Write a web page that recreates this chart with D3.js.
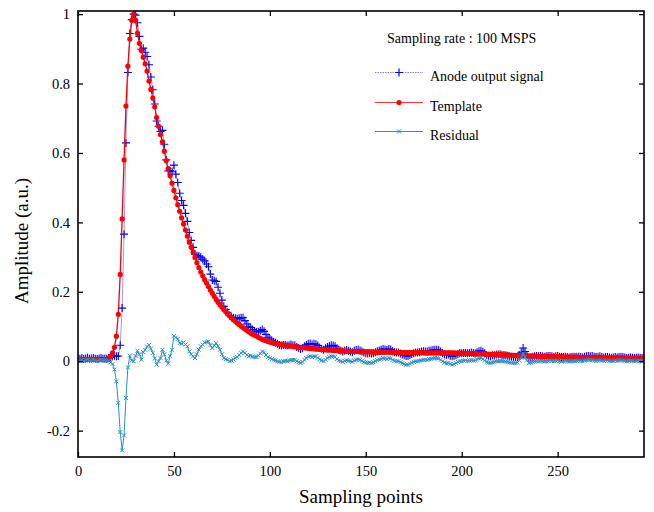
<!DOCTYPE html>
<html><head><meta charset="utf-8">
<script src="https://cdn.jsdelivr.net/npm/d3@7/dist/d3.min.js"></script>
<style>body{margin:0;background:#fff}svg{display:block}</style>
</head><body>
<svg id="c" width="654" height="512"></svg>
<script>
const template = [
0.005,0.005,0.005,0.005,0.005,0.005,0.005,0.005,0.005,0.005,
0.005,0.005,0.005,0.005,0.005,0.005,0.008,0.014,0.024,0.040,
0.072,0.135,0.250,0.410,0.580,0.735,0.850,0.928,0.982,1.000,
0.982,0.945,0.916,0.895,0.876,0.857,0.836,0.807,0.783,0.758,
0.733,0.702,0.677,0.653,0.632,0.605,0.578,0.555,0.534,0.513,
0.492,0.471,0.451,0.432,0.413,0.395,0.378,0.360,0.343,0.328,
0.314,0.299,0.284,0.270,0.257,0.246,0.235,0.225,0.215,0.205,
0.196,0.187,0.178,0.170,0.163,0.156,0.149,0.143,0.137,0.131,
0.125,0.120,0.115,0.110,0.106,0.101,0.097,0.093,0.089,0.085,
0.081,0.078,0.075,0.072,0.069,0.066,0.063,0.061,0.059,0.057,
0.055,0.054,0.052,0.051,0.050,0.049,0.048,0.047,0.046,0.045,
0.044,0.044,0.043,0.042,0.041,0.041,0.040,0.039,0.039,0.038,
0.037,0.037,0.036,0.036,0.035,0.035,0.034,0.034,0.033,0.033,
0.032,0.032,0.032,0.031,0.031,0.031,0.030,0.030,0.030,0.029,
0.029,0.029,0.028,0.028,0.028,0.028,0.028,0.027,0.027,0.027,
0.027,0.027,0.027,0.027,0.026,0.026,0.026,0.026,0.026,0.026,
0.026,0.026,0.026,0.026,0.025,0.025,0.025,0.025,0.025,0.025,
0.025,0.025,0.025,0.025,0.025,0.025,0.025,0.025,0.025,0.025,
0.025,0.024,0.024,0.024,0.024,0.024,0.024,0.024,0.024,0.024,
0.024,0.024,0.024,0.024,0.024,0.024,0.024,0.023,0.023,0.023,
0.023,0.023,0.022,0.022,0.022,0.022,0.022,0.021,0.021,0.021,
0.021,0.021,0.021,0.020,0.020,0.020,0.020,0.019,0.019,0.019,
0.019,0.018,0.018,0.018,0.018,0.017,0.017,0.017,0.017,0.016,
0.016,0.016,0.016,0.016,0.016,0.015,0.015,0.015,0.015,0.015,
0.014,0.014,0.014,0.014,0.014,0.014,0.013,0.013,0.013,0.013,
0.013,0.013,0.013,0.012,0.012,0.012,0.012,0.012,0.012,0.012,
0.012,0.011,0.011,0.011,0.011,0.011,0.011,0.011,0.011,0.011,
0.011,0.011,0.011,0.010,0.010,0.010,0.010,0.010,0.010,0.010,
0.010,0.010,0.010,0.010,0.010,0.010,0.009,0.009,0.009,0.009,
0.009,0.009,0.009,0.009,0.009,0.009];

const residual = [
0.003,0.002,0.004,0.001,0.003,0.005,0.002,0.003,0.004,0.002,
0.001,0.003,0.004,0.002,0.003,0.002,0.001,-0.003,-0.008,-0.024,
-0.058,-0.120,-0.204,-0.257,-0.214,-0.106,-0.018,0.016,0.002,0.000,
0.015,0.030,0.020,0.004,0.026,0.033,0.042,0.047,0.036,0.024,
0.008,-0.010,0.000,0.009,0.033,0.020,0.002,-0.007,0.015,0.033,
0.073,0.068,0.064,0.052,0.050,0.054,0.048,0.043,0.028,0.020,
0.014,0.009,0.020,0.033,0.043,0.048,0.054,0.055,0.057,0.046,
0.038,0.045,0.052,0.043,0.033,0.020,0.009,0.006,0.004,0.000,
0.002,0.005,0.009,0.012,0.018,0.024,0.028,0.024,0.018,0.014,
0.016,0.013,0.012,0.012,0.016,0.022,0.028,0.025,0.018,0.012,
0.009,0.006,0.004,0.002,0.000,-0.002,-0.003,0.000,0.001,0.000,
0.002,0.004,0.003,0.004,0.000,-0.003,-0.005,-0.002,0.004,0.009,
0.013,0.014,0.012,0.014,0.014,0.010,0.005,0.002,0.000,0.004,
0.009,0.012,0.014,0.014,0.012,0.006,0.002,0.000,-0.002,0.001,
0.003,0.001,0.000,-0.002,0.002,0.004,0.005,0.004,0.001,-0.002,
-0.004,-0.005,-0.004,-0.005,-0.003,0.000,0.003,0.005,0.007,0.009,
0.008,0.006,0.009,0.008,0.004,0.001,0.000,0.000,-0.003,-0.006,
-0.008,-0.010,-0.010,-0.007,-0.004,-0.002,0.000,0.000,0.001,0.003,
0.004,0.004,0.004,0.006,0.007,0.008,0.009,0.009,0.008,0.004,
0.000,-0.004,-0.006,-0.005,-0.008,-0.010,-0.008,-0.005,-0.002,0.000,
0.000,0.001,0.002,0.001,0.002,0.003,0.002,0.002,0.005,0.008,
0.009,0.006,0.002,-0.002,-0.004,-0.005,-0.003,-0.002,0.000,0.000,
0.001,0.000,0.000,-0.001,-0.002,-0.003,-0.004,-0.005,-0.005,-0.004,
0.002,0.010,0.022,0.012,0.002,-0.005,-0.004,-0.002,-0.001,0.000,
0.000,0.001,0.000,-0.001,0.000,0.001,0.002,0.001,0.000,0.001,
0.002,0.000,-0.001,0.000,0.001,0.000,-0.001,0.000,0.001,0.000,
0.001,0.002,0.001,0.000,0.002,0.003,0.004,0.003,0.004,0.002,
0.001,0.002,0.003,0.002,0.001,0.002,0.002,0.001,0.000,0.001,
0.002,0.001,0.002,0.003,0.002,0.001,0.000,0.001,0.002,0.001,
0.000,0.001,0.002,0.001,0.000,0.001];

const anode = [
0.008,0.007,0.009,0.006,0.008,0.010,0.007,0.008,0.009,0.007,
0.006,0.008,0.009,0.007,0.008,0.007,0.009,0.011,0.016,0.016,
0.014,0.015,0.046,0.153,0.366,0.629,0.832,0.944,0.984,1.000,
0.997,0.975,0.936,0.899,0.902,0.890,0.878,0.854,0.819,0.782,
0.741,0.692,0.677,0.662,0.665,0.625,0.580,0.548,0.549,0.546,
0.565,0.539,0.515,0.484,0.463,0.449,0.426,0.403,0.371,0.348,
0.328,0.308,0.304,0.303,0.300,0.294,0.289,0.280,0.272,0.251,
0.234,0.232,0.230,0.213,0.196,0.176,0.158,0.149,0.141,0.131,
0.127,0.125,0.124,0.122,0.124,0.125,0.125,0.117,0.107,0.099,
0.097,0.091,0.087,0.084,0.085,0.088,0.091,0.086,0.077,0.069,
0.064,0.060,0.056,0.053,0.050,0.047,0.045,0.047,0.047,0.045,
0.046,0.048,0.046,0.046,0.041,0.038,0.035,0.037,0.043,0.047,
0.050,0.051,0.048,0.050,0.049,0.045,0.039,0.036,0.033,0.037,
0.041,0.044,0.046,0.045,0.043,0.037,0.032,0.030,0.028,0.030,
0.032,0.030,0.028,0.026,0.030,0.032,0.033,0.031,0.028,0.025,
0.023,0.022,0.023,0.022,0.023,0.026,0.029,0.031,0.033,0.035,
0.034,0.032,0.035,0.034,0.029,0.026,0.025,0.025,0.022,0.019,
0.017,0.015,0.015,0.018,0.021,0.023,0.025,0.025,0.026,0.028,
0.029,0.028,0.028,0.030,0.031,0.032,0.033,0.033,0.032,0.028,
0.024,0.020,0.018,0.019,0.016,0.014,0.016,0.018,0.021,0.023,
0.023,0.024,0.024,0.023,0.024,0.025,0.024,0.023,0.026,0.029,
0.030,0.027,0.023,0.018,0.016,0.015,0.017,0.017,0.019,0.019,
0.020,0.018,0.018,0.017,0.016,0.014,0.013,0.012,0.012,0.012,
0.018,0.026,0.038,0.028,0.018,0.010,0.011,0.013,0.014,0.015,
0.014,0.015,0.014,0.013,0.014,0.015,0.015,0.014,0.013,0.014,
0.015,0.013,0.012,0.012,0.013,0.012,0.011,0.012,0.013,0.012,
0.013,0.013,0.012,0.011,0.013,0.014,0.015,0.014,0.015,0.013,
0.012,0.013,0.014,0.012,0.011,0.012,0.012,0.011,0.010,0.011,
0.012,0.011,0.012,0.013,0.012,0.011,0.009,0.010,0.011,0.010,
0.009,0.010,0.011,0.010,0.009,0.010];

const xTicks = [0, 50, 100, 150, 200, 250];
const yTicks = [-0.2, 0, 0.2, 0.4, 0.6, 0.8, 1];
const yTickLabels = ["-0.2", "0", "0.2", "0.4", "0.6", "0.8", "1"];
const seriesNames = ["Anode output signal", "Template", "Residual"];
const noteText = "Sampling rate : 100 MSPS";
const xTitle = "Sampling points";
const yTitle = "Amplitude (a.u.)";

const FONT = "'Liberation Serif','Times New Roman',serif";
const L = 78, R = 644, T = 11, B = 457;
const svg = d3.select("#c");
const x = d3.scaleLinear().domain([0, 295]).range([L, R]);
const y = d3.scaleLinear().domain([-0.276, 1.009]).range([B, T]);
const idx = d3.range(template.length);

svg.append("rect").attr("width", 654).attr("height", 512).attr("fill", "#fff");
svg.append("defs").append("clipPath").attr("id", "clip")
  .append("rect").attr("x", L).attr("y", T).attr("width", R - L).attr("height", B - T);

const plot = svg.append("g").attr("clip-path", "url(#clip)");
const line = arr => d3.line().x((d, i) => x(i)).y(d => y(d))(arr);

const colAnode = "#0000ff", colAnodeLine = "#8080ff", colTpl = "#ff0000", colRes = "#2a8fcf";

function plus(g, cx, cy, s, col, w) {
  g.append("path").attr("d", `M${cx - s},${cy}H${cx + s}M${cx},${cy - s}V${cy + s}`)
    .attr("stroke", col).attr("stroke-width", w).attr("fill", "none");
}
function cross(g, cx, cy, s, col, w) {
  g.append("path").attr("d", `M${cx - s},${cy - s}L${cx + s},${cy + s}M${cx - s},${cy + s}L${cx + s},${cy - s}`)
    .attr("stroke", col).attr("stroke-width", w).attr("fill", "none");
}

// Anode
plot.append("path").attr("d", line(anode)).attr("fill", "none")
  .attr("stroke", colAnodeLine).attr("stroke-width", 1).attr("stroke-opacity", 0.8);
const ga = plot.append("g");
anode.forEach((v, i) => plus(ga, x(i), y(v), 4, colAnode, 1.1));

// Template
plot.append("path").attr("d", line(template)).attr("fill", "none")
  .attr("stroke", colTpl).attr("stroke-width", 1.3);
plot.append("g").selectAll("circle").data(template).join("circle")
  .attr("cx", (d, i) => x(i)).attr("cy", d => y(d)).attr("r", 2.6).attr("fill", colTpl);

// Residual
plot.append("path").attr("d", line(residual)).attr("fill", "none")
  .attr("stroke", colRes).attr("stroke-width", 1);
const gr = plot.append("g");
residual.forEach((v, i) => cross(gr, x(i), y(v), 2, colRes, 1));

// Axes (inward ticks, mirrored)
const tk = 5;
const axB = svg.append("g").attr("transform", `translate(0,${B})`)
  .call(d3.axisBottom(x).tickValues(xTicks).tickSize(-tk).tickSizeOuter(0).tickPadding(9));
const axT = svg.append("g").attr("transform", `translate(0,${T})`)
  .call(d3.axisTop(x).tickValues(xTicks).tickSize(-tk).tickSizeOuter(0).tickFormat(""));
const axL = svg.append("g").attr("transform", `translate(${L},0)`)
  .call(d3.axisLeft(y).tickValues(yTicks).tickSize(-tk).tickSizeOuter(0).tickPadding(8)
    .tickFormat((d, i) => yTickLabels[i]));
const axR = svg.append("g").attr("transform", `translate(${R},0)`)
  .call(d3.axisRight(y).tickValues(yTicks).tickSize(-tk).tickSizeOuter(0).tickFormat(""));
[axB, axT, axL, axR].forEach(a => {
  a.select(".domain").remove();
  a.selectAll(".tick line").attr("stroke", "#000").attr("stroke-width", 1.3);
  a.selectAll(".tick text").attr("font-family", FONT).attr("font-size", 14.5).attr("fill", "#000");
});
svg.append("rect").attr("x", L).attr("y", T).attr("width", R - L).attr("height", B - T)
  .attr("fill", "none").attr("stroke", "#000").attr("stroke-width", 1.6);

// Titles
svg.append("text").attr("x", (L + R) / 2).attr("y", 503).attr("text-anchor", "middle")
  .attr("font-family", FONT).attr("font-size", 19).text(xTitle);
svg.append("text").attr("transform", `translate(28,${(T + B) / 2 + 7}) rotate(-90)`)
  .attr("text-anchor", "middle").attr("font-family", FONT).attr("font-size", 19).text(yTitle);

// Legend
const lg = svg.append("g");
lg.append("text").attr("x", 387).attr("y", 43).attr("font-family", FONT).attr("font-size", 14).text(noteText);
const rows = [72.5, 102.5, 131.5];
const lx0 = 375, lx1 = 423, lxm = 399;
// anode
lg.append("line").attr("x1", lx0).attr("x2", lx1).attr("y1", rows[0]).attr("y2", rows[0])
  .attr("stroke", colAnodeLine).attr("stroke-width", 1.2).attr("stroke-dasharray", "1.5,1");
plus(lg, lxm, rows[0], 4, colAnode, 1.2);
// template
lg.append("line").attr("x1", lx0).attr("x2", lx1).attr("y1", rows[1]).attr("y2", rows[1])
  .attr("stroke", colTpl).attr("stroke-width", 1.2).attr("stroke-opacity", 0.8);
lg.append("circle").attr("cx", lxm).attr("cy", rows[1]).attr("r", 2.6).attr("fill", colTpl);
// residual
lg.append("line").attr("x1", lx0).attr("x2", lx1).attr("y1", rows[2]).attr("y2", rows[2])
  .attr("stroke", colRes).attr("stroke-width", 1.2);
cross(lg, lxm, rows[2], 2, colRes, 1);
seriesNames.forEach((s, i) => {
  lg.append("text").attr("x", 430).attr("y", rows[i] + 8.5).attr("font-family", FONT)
    .attr("font-size", 14).text(s);
});
</script>
</body></html>
